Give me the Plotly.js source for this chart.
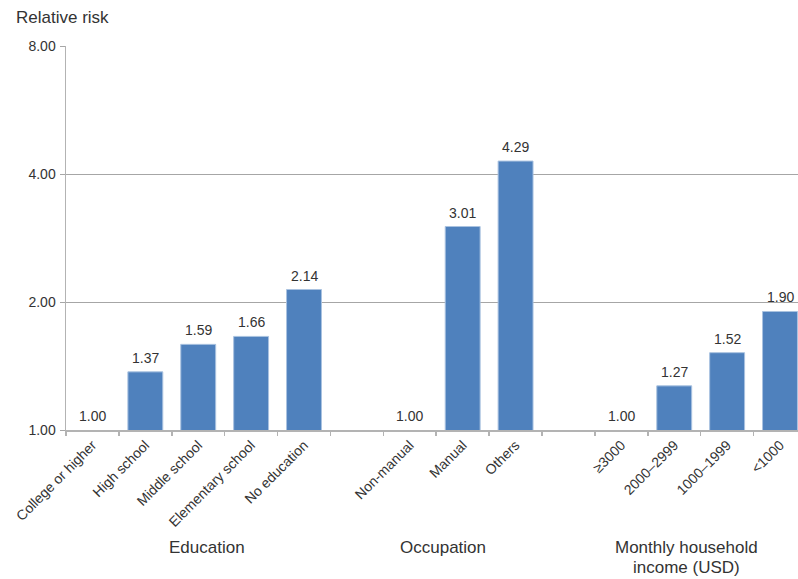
<!DOCTYPE html>
<html>
<head>
<meta charset="utf-8">
<script src="https://cdn.plot.ly/plotly-3.0.1.min.js"></script>
<style>
  html, body { margin: 0; padding: 0; background: #ffffff; }
  #chart { width: 798px; height: 579px; }
</style>
</head>
<body>
<div id="chart"></div>
<script>
// Relative risk by socioeconomic factor (log scale)
const groupNames = ['Education', 'Occupation', 'Monthly household', 'income (USD)'];

const educationLabels = ['College or higher', 'High school', 'Middle school', 'Elementary school', 'No education'];
const educationValues = [1.00, 1.37, 1.59, 1.66, 2.14];

const occupationLabels = ['Non-manual', 'Manual', 'Others'];
const occupationValues = [1.00, 3.01, 4.29];

const incomeLabels = ['≥3000', '2000–2999', '1000–1999', '<1000'];
const incomeValues = [1.00, 1.27, 1.52, 1.90];

const yTickValues = [1, 2, 4, 8];
const yTickText = ['1.00', '2.00', '4.00', '8.00'];

// Lay the groups out side by side with one empty slot between them
const groups = [
  {labels: educationLabels, values: educationValues},
  {labels: occupationLabels, values: occupationValues},
  {labels: incomeLabels, values: incomeValues}
];
const xs = [], ys = [], labels = [], groupCenters = [];
let slot = 0;
groups.forEach(g => {
  const start = slot;
  g.labels.forEach((lab, i) => {
    xs.push(slot);
    ys.push(g.values[i]);
    labels.push(lab.replace(/</g, '&lt;'));
    slot += 1;
  });
  groupCenters.push((start + slot - 1) / 2);
  slot += 1;
});
const lastSlot = slot - 2;
const boundaries = [];
for (let b = -0.5; b <= lastSlot + 0.5; b += 1) boundaries.push(b);

const font = {family: '"Liberation Sans", Arial, sans-serif', color: '#333333'};
const xRange = [-0.5, 13.34];

const bars = {
  type: 'bar',
  x: xs,
  y: ys,
  width: 0.66,
  // reference categories (RR = 1) have no visible bar, so no outline either
  marker: {color: '#4f81bd', line: {color: '#a9c2e0', width: ys.map(v => (v > 1 ? 1 : 0))}},
  hoverinfo: 'x+y'
};

// Invisible trace on the overlay axis so its boundary ticks are drawn
const boundaryTrace = {
  type: 'scatter',
  mode: 'markers',
  x: [xRange[0]],
  y: [1],
  xaxis: 'x2',
  marker: {opacity: 0},
  hoverinfo: 'skip'
};

// Value labels above each bar (annotation y is log10 on a log axis)
const valueAnnotations = xs.map((x, i) => ({
  text: ys[i].toFixed(2),
  xref: 'x', yref: 'y',
  x: x, y: Math.log10(ys[i]),
  xanchor: 'center', yanchor: 'bottom',
  yshift: 4,
  showarrow: false,
  font: Object.assign({}, font, {size: 14})
}));

const groupFont = Object.assign({}, font, {size: 17});
const annotations = valueAnnotations.concat([
  {text: 'Relative risk', xref: 'paper', yref: 'paper', x: -52 / 732, y: (430 - 18) / 384,
   xanchor: 'left', yanchor: 'middle', showarrow: false, font: groupFont},
  {text: groupNames[0], xref: 'x', yref: 'paper', x: groupCenters[0] + 0.17, y: (430 - 547) / 384,
   xanchor: 'center', yanchor: 'middle', showarrow: false, font: groupFont},
  {text: groupNames[1], xref: 'x', yref: 'paper', x: groupCenters[1] - 0.37, y: (430 - 547) / 384,
   xanchor: 'center', yanchor: 'middle', showarrow: false, font: groupFont},
  {text: groupNames[2], xref: 'x', yref: 'paper', x: groupCenters[2] - 0.27, y: (430 - 547) / 384,
   xanchor: 'center', yanchor: 'middle', showarrow: false, font: groupFont},
  {text: groupNames[3], xref: 'x', yref: 'paper', x: groupCenters[2] - 0.27, y: (430 - 567) / 384,
   xanchor: 'center', yanchor: 'middle', showarrow: false, font: groupFont}
]);

const layout = {
  width: 798,
  height: 579,
  margin: {l: 66, r: 0, t: 46, b: 149, pad: 0},
  paper_bgcolor: '#ffffff',
  plot_bgcolor: '#ffffff',
  showlegend: false,
  font: font,
  xaxis: {
    range: xRange,
    tickvals: xs,
    ticktext: labels,
    tickangle: -45,
    ticks: '',
    tickfont: Object.assign({}, font, {size: 14}),
    showgrid: false,
    zeroline: false,
    showline: true,
    linecolor: '#b3b3b3',
    linewidth: 1.5,
    fixedrange: true
  },
  xaxis2: {
    overlaying: 'x',
    anchor: 'y',
    side: 'bottom',
    range: xRange,
    tickvals: boundaries,
    ticks: 'outside',
    ticklen: 5,
    tickcolor: '#b3b3b3',
    tickwidth: 1.5,
    showticklabels: false,
    showgrid: false,
    zeroline: false,
    showline: false,
    fixedrange: true
  },
  yaxis: {
    type: 'log',
    range: [0, Math.log10(8)],
    tickvals: yTickValues,
    ticktext: yTickText,
    ticks: 'outside',
    ticklen: 5,
    tickcolor: '#a6a6a6',
    tickfont: Object.assign({}, font, {size: 14}),
    ticklabelstandoff: 1,
    showgrid: true,
    gridcolor: '#a6a6a6',
    gridwidth: 1,
    zeroline: false,
    showline: true,
    linecolor: '#b3b3b3',
    linewidth: 1.5,
    fixedrange: true
  },
  annotations: annotations
};

Plotly.newPlot('chart', [bars, boundaryTrace], layout, {displayModeBar: false, staticPlot: true});
</script>
</body>
</html>
